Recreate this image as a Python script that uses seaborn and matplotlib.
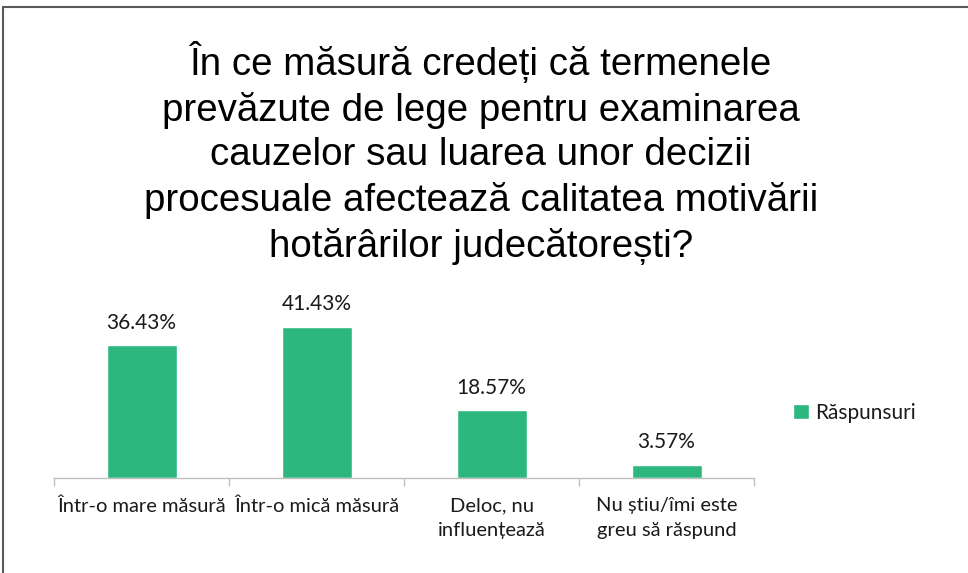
import matplotlib
matplotlib.use("Agg")
import matplotlib.pyplot as plt
import seaborn as sns
import pandas as pd
from matplotlib.lines import Line2D

categories = ["Într-o mare măsură", "Într-o mică măsură", "Deloc, nu\ninfluențează", "Nu știu/îmi este\ngreu să răspund"]
values = [36.43, 41.43, 18.57, 3.57]
value_labels = ["36.43%", "41.43%", "18.57%", "3.57%"]
series_name = "Răspunsuri"
title = ("În ce măsură credeți că termenele\n"
         "prevăzute de lege pentru examinarea\n"
         "cauzelor sau luarea unor decizii\n"
         "procesuale afectează calitatea motivării\n"
         "hotărârilor judecătorești?")

GREEN = "#2db77e"
LABEL_FONT = ["Lato", "DejaVu Sans"]

sns.set_style("white")
plt.rcParams["font.family"] = LABEL_FONT

fig = plt.figure(figsize=(9.68, 5.73), dpi=100)
ax = fig.add_axes([54/968, 1-478/573, 700/968, 182.5/573])

df = pd.DataFrame({"cat": categories, "val": values})
sns.barplot(data=df, x="cat", y="val", color=GREEN, width=0.4, ax=ax,
            label=series_name, saturation=1)

ax.set_xlim(-0.5, 3.5)
ax.set_ylim(0, 50)
ax.set_xlabel("")
ax.set_ylabel("")
ax.set_yticks([])
for s in ["top", "right", "left"]:
    ax.spines[s].set_visible(False)
ax.spines["bottom"].set_color("#bfbfbf")
ax.spines["bottom"].set_linewidth(1.0)

ax.set_xticks(range(len(categories)))
ax.set_xticklabels(categories, fontsize=14.5, color="#1a1a1a", linespacing=1.55)
ax.tick_params(axis="x", which="major", length=0, pad=14, bottom=True)
ax.set_xticks([i - 0.5 for i in range(len(categories) + 1)], minor=True)
ax.tick_params(axis="x", which="minor", length=6, color="#bfbfbf", width=1.0,
               direction="out", bottom=True)

for cont in ax.containers:
    ax.bar_label(cont, labels=value_labels, padding=9, fontsize=15, color="#1a1a1a")

fig.text(481/968, 1-153/573, title, ha="center", va="center", fontsize=27.7,
         family=["Liberation Sans", "DejaVu Sans"], linespacing=1.3, color="black")

leg = ax.legend(loc="center left", bbox_to_anchor=(793/968, 1-413/573),
                bbox_transform=fig.transFigure, frameon=False, fontsize=15,
                handlelength=0.75, handleheight=0.75, handletextpad=0.3, borderpad=0,
                borderaxespad=0)
for t in leg.get_texts():
    t.set_color("#1a1a1a")

# outer frame (top and left edges visible)
fig.add_artist(Line2D([3/968, 1], [1-7/573, 1-7/573], transform=fig.transFigure,
                      color="#595959", lw=1.5))
fig.add_artist(Line2D([3/968, 3/968], [0, 1-7/573], transform=fig.transFigure,
                      color="#595959", lw=1.5))

fig.savefig("out.png", dpi=100)
